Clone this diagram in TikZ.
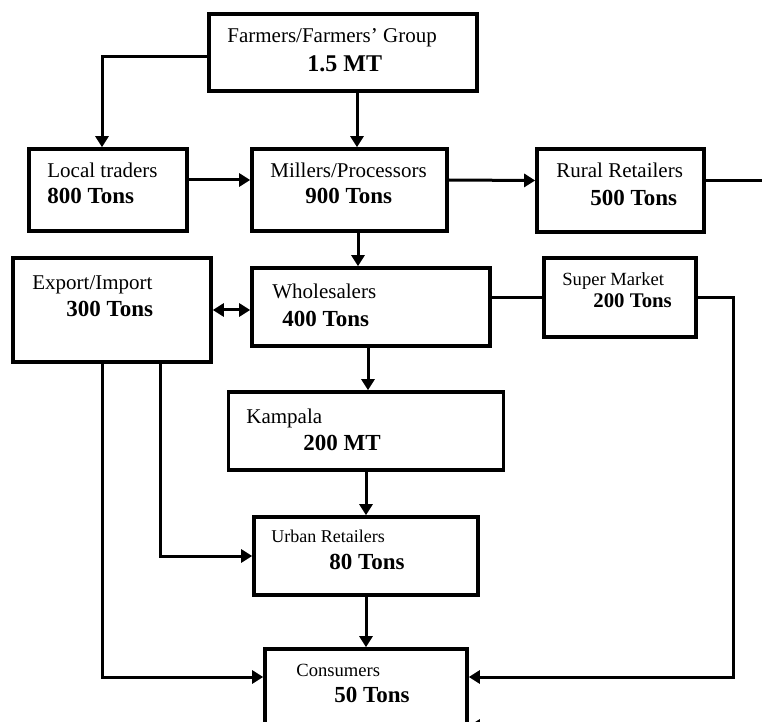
\documentclass[tikz,border=0pt]{standalone}
\usepackage{fontspec}
\setmainfont{Liberation Serif}
\usetikzlibrary{arrows.meta, positioning}

\begin{document}
\begin{tikzpicture}[
  x=0.5pt, y=-0.5pt,
  box/.style={rectangle, draw=black, line width=1.8pt, inner sep=0pt},
  title/.style={anchor=base west, inner sep=0pt, font=\fontsize{10.5}{12}\selectfont},
  amount/.style={anchor=base west, inner sep=0pt, font=\fontsize{11.5}{13}\selectfont\bfseries},
  arrow/.style={-{Triangle[length=5.5pt, width=6.5pt]}, line width=1.5pt},
  plain/.style={line width=1.5pt}
]
\useasboundingbox (0,0) rectangle (762,722);
\clip (0,0) rectangle (762,722);

% boxes
\node[box, minimum width=134pt, minimum height=38.5pt] (farmers) at (343,52.5) {};
\node[box, minimum width=79pt, minimum height=41pt] (local) at (108,190) {};
\node[box, minimum width=97.5pt, minimum height=41pt] (millers) at (349.5,190) {};
\node[box, minimum width=83.5pt, minimum height=41.5pt] (rural) at (620.5,190.5) {};
\node[box, minimum width=99pt, minimum height=52pt] (export) at (112,310) {};
\node[box, minimum width=119pt, minimum height=39pt] (whole) at (371,307) {};
\node[box, minimum width=76pt, minimum height=39.5pt] (super) at (620,297.5) {};
\node[box, minimum width=137.5pt, minimum height=39pt] (kampala) at (366,431) {};
\node[box, minimum width=112pt, minimum height=39pt] (urban) at (366,556) {};
\node[box, minimum width=101pt, minimum height=48pt] (consumers) at (366,697) {};

% texts
\node[title] (farmers-title) at (227,43) {Farmers/Farmers’ Group};
\node[amount, font=\fontsize{12}{14}\selectfont\bfseries] (farmers-amount) at (307,72) {1.5 MT};
\node[title] (local-title) at (47,178) {Local traders};
\node[amount] (local-amount) at (47,204) {800 Tons};
\node[title] (millers-title) at (270,178) {Millers/Processors};
\node[amount] (millers-amount) at (305,204) {900 Tons};
\node[title] (rural-title) at (556,178) {Rural Retailers};
\node[amount] (rural-amount) at (590,206) {500 Tons};
\node[title] (export-title) at (32,290) {Export/Import};
\node[amount] (export-amount) at (66,317) {300 Tons};
\node[title] (whole-title) at (272,299) {Wholesalers};
\node[amount] (whole-amount) at (282,327) {400 Tons};
\node[title, font=\fontsize{9.3}{11}\selectfont] (super-title) at (562,286) {Super Market};
\node[amount, font=\fontsize{10.4}{12}\selectfont\bfseries] (super-amount) at (593,308) {200 Tons};
\node[title] (kampala-title) at (246,423) {Kampala};
\node[amount] (kampala-amount) at (303,451) {200 MT};
\node[title, font=\fontsize{9}{11}\selectfont] (urban-title) at (271,543) {Urban Retailers};
\node[amount] (urban-amount) at (329,569) {80 Tons};
\node[title, font=\fontsize{9.3}{11}\selectfont] (consumers-title) at (296,676) {Consumers};
\node[amount] (consumers-amount) at (334,702) {50 Tons};

% connectors
\draw[arrow] ([yshift=-2.25pt]farmers.west) -| ([xshift=-3pt]local.north);
\draw[arrow] ([xshift=3.75pt]millers.north |- farmers.south) -- ([xshift=3.75pt]millers.north);
\draw[arrow] ([yshift=5pt]local.east) -- ([yshift=5pt]millers.west);
\draw[arrow] ([yshift=5pt]millers.east) -- ([yshift=5pt]rural.west);
\draw[plain] ([yshift=5pt]rural.east) -- ++(60pt,0) |- ([yshift=-14.5pt]consumers.east);
\draw[arrow] ([xshift=4.25pt]millers.south) -- ([xshift=4.25pt]millers.south |- whole.north);
\draw[{Triangle[length=5.5pt, width=6.5pt]}-{Triangle[length=5.5pt, width=6.5pt]}, line width=1.5pt] (export.east) -- (export.east -| whole.west);
\draw[plain] (super.west -| whole.east) -- (super.west);
\draw[arrow] (super.east) -- ++(18pt,0) |- ([yshift=10pt]consumers.east);
\draw[arrow] ([xshift=-1.5pt]whole.south) -- ([xshift=-1.5pt]whole.south |- kampala.north);
\draw[arrow] (kampala.south) -- (urban.north);
\draw[arrow] (urban.south) -- (consumers.north);
\draw[arrow] ([xshift=24pt]export.south) |- (urban.west);
\draw[arrow] ([xshift=-5pt]export.south) |- ([yshift=10pt]consumers.west);
\draw[arrow] ([yshift=-14.5pt]consumers.east) ++(40pt,0) -- ([yshift=-14.5pt]consumers.east);
\end{tikzpicture}
\end{document}
